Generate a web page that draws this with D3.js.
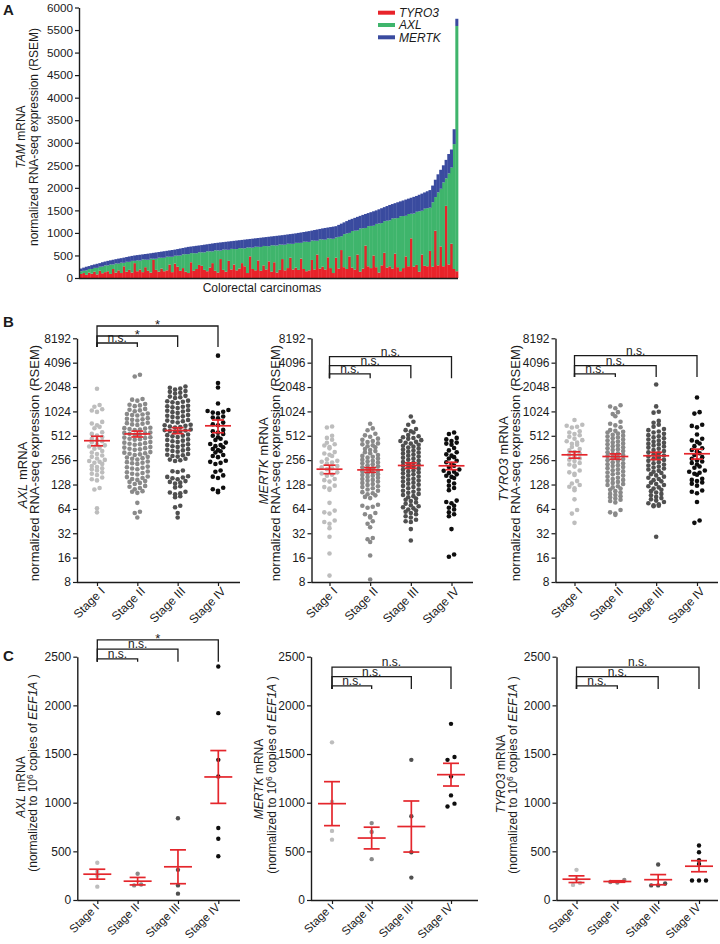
<!DOCTYPE html>
<html>
<head>
<meta charset="utf-8">
<script src="https://cdn.jsdelivr.net/npm/d3@7/dist/d3.min.js"></script>
<style>
html,body{margin:0;padding:0;background:#fff;}
svg text{font-family:"Liberation Sans",Arial,Helvetica,sans-serif;fill:#1b1b1b;}
</style>
</head>
<body>
<svg id="fig" width="720" height="944" xmlns="http://www.w3.org/2000/svg"></svg>
<script>
// ================= DATA =================
// Panel A: TAM receptor RNA-seq per tumour (sorted by total)
const tamGenes = ["TYRO3", "AXL", "MERTK"];
const tamTicks = [0, 500, 1000, 1500, 2000, 2500, 3000, 3500, 4000, 4500, 5000, 5500, 6000];
const tamTyro3 = [90,110,70,120,95,140,80,160,105,130,
150,90,200,120,170,110,260,140,180,120,
330,150,190,130,240,160,120,400,180,140,
210,150,170,300,130,320,250,160,220,140,
110,350,160,200,290,270,180,150,230,330,
160,120,420,180,140,380,190,300,170,210,
330,260,110,480,200,170,390,160,280,190,
370,140,350,120,180,420,170,220,450,190,
230,180,430,200,150,170,400,190,520,210,
250,190,460,220,110,450,210,620,240,200,
480,230,190,520,140,210,720,260,220,500,
240,120,280,560,230,260,210,540,240,150,
220,480,260,880,250,290,140,520,270,260,
600,250,1050,280,700,260,1600,300,760,200,150];
const tamAxl = [60,50,100,80,105,85,145,90,150,150,
130,212,100,203,150,230,77,220,178,260,
50,243,196,284,167,245,309,28,247,311,
240,299,303,172,341,175,247,339,306,388,
420,203,391,349,282,300,389,443,362,261,
455,492,189,451,488,245,457,344,471,453,
330,397,569,196,473,525,302,529,431,518,
335,587,374,601,563,320,568,541,309,567,
550,600,350,605,655,630,432,639,306,648,
605,660,420,655,760,450,703,306,734,787,
520,812,859,536,958,895,390,890,935,660,
960,1089,938,702,1041,1020,1110,785,1090,1220,
1155,900,1160,545,1180,1180,1341,972,1268,1289,
960,1430,745,1620,1280,1860,610,2020,1690,2770,5440];
const tamMertk = [60,70,80,65,85,75,90,80,95,85,
100,90,105,95,110,100,115,105,120,110,
120,115,130,110,125,135,120,130,140,125,
135,145,130,140,150,135,145,155,140,150,
160,145,155,165,150,160,170,155,165,175,
160,170,180,165,175,185,170,180,190,175,
185,195,180,190,200,185,195,205,190,200,
210,195,205,215,200,210,220,205,215,225,
210,220,230,215,225,240,220,235,250,230,
245,260,240,255,270,250,265,280,260,275,
290,270,285,300,280,295,310,290,305,320,
300,315,330,310,325,340,320,335,350,330,
345,360,340,355,370,350,365,380,360,375,
390,370,385,400,420,380,410,430,400,330,160];

// Panels B/C shared
const stages = ["Stage I", "Stage II", "Stage III", "Stage IV"];
const rnaTicks = [8, 16, 32, 64, 128, 256, 512, 1024, 2048, 4096, 8192];
const qpcrTicks = [0, 500, 1000, 1500, 2000, 2500];

// Panel B: RNA-seq (RSEM) per tumour, by stage
const axlRna = [
 [1950,1230,1170,1090,1050,1010,760,725,690,660,635,565,540,515,495,470,452,438,425,402,390,378,365,355,332,318,305,292,281,268,258,250,244,238,230,216,210,203,197,191,181,174,168,156,149,144,116,111,65,58],
 [2900,2760,1460,1430,1390,1265,1240,1215,1190,1100,1075,1055,1030,965,950,938,925,912,845,832,818,805,790,742,733,720,708,695,642,636,628,620,611,603,562,556,549,541,534,527,492,486,479,471,464,457,428,421,415,408,402,396,371,366,360,354,348,343,322,317,312,307,302,297,281,276,271,266,261,246,242,238,234,230,213,209,206,202,198,185,181,178,174,170,161,158,154,150,146,141,138,134,130,123,120,116,112,106,104,101,76,59,57,50],
 [2080,2010,1960,1905,1830,1785,1740,1700,1595,1560,1530,1500,1390,1368,1348,1325,1300,1205,1188,1168,1150,1128,1060,1042,1020,1002,982,922,905,890,876,860,802,788,775,762,748,702,690,679,668,657,646,612,602,594,585,577,568,530,521,513,504,495,462,454,446,438,430,401,394,387,380,373,350,344,338,332,326,305,299,294,288,283,266,260,255,250,191,187,183,162,159,156,153,149,141,138,135,132,122,118,104,102,100,97,92,89,70,67,57,50],
 [5000,2300,2020,1280,1065,1035,1012,990,968,885,862,840,745,712,690,605,582,560,540,512,490,470,455,422,405,393,381,370,352,340,330,318,296,288,279,252,244,237,229,191,184,166,160,154,117,112,107,103]
];
const axlRnaMean = [445, 540, 595, 680];
const axlRnaSem = [60, 45, 50, 122];

const mertkRna = [
 [668,648,512,482,458,420,402,388,372,358,322,309,298,288,262,251,245,239,233,216,209,203,198,181,175,169,164,150,145,139,124,119,114,110,76,61,58,56,46,44,42,37,29,18,9.6],
 [722,632,598,542,518,498,472,456,441,428,412,401,390,380,369,352,341,331,321,311,297,289,282,275,268,259,252,246,240,234,228,221,215,209,203,197,191,186,181,176,172,168,164,159,155,150,146,142,139,134,130,126,122,119,115,111,107,103,100,97,94,90,87,72,70,68,66,57,55,52,50,45,42,38,28,27,25,17,8.6],
 [885,762,702,622,601,582,561,522,506,492,480,469,452,441,431,420,410,396,386,376,366,356,346,336,326,318,310,301,291,283,275,267,259,251,243,237,231,225,219,213,207,201,196,191,186,181,176,171,166,161,156,151,147,143,139,135,131,127,123,119,115,111,107,104,101,98,95,92,89,86,83,80,77,74,71,69,67,65,63,61,59,57,55,52,50,47,45,44,36,26],
 [562,538,482,462,441,422,410,398,362,338,321,302,291,279,268,251,241,229,219,211,196,189,184,178,171,164,159,154,141,132,124,116,109,81,78,75,70,66,63,58,55,52,36,17.5,16.4]
];
const mertkRnaMean = [198, 194, 220, 218];
const mertkRnaSem = [24, 13, 17, 23];

const tyro3Rna = [
 [802,702,681,662,648,582,561,538,519,498,472,452,438,421,409,398,372,351,338,322,309,298,281,269,259,249,236,226,219,213,191,181,174,168,141,132,126,120,115,109,84,62,56,43],
 [1220,1178,1118,1002,948,892,762,722,688,652,602,589,574,561,546,528,514,501,489,476,461,448,436,424,412,401,391,381,369,359,350,341,331,321,312,304,296,288,279,272,264,256,249,241,234,228,222,216,210,204,198,192,186,180,176,171,165,160,155,150,146,142,138,134,130,126,122,118,114,110,106,102,98,95,92,89,86,83,80,77,62,58,56,54],
 [2200,1180,1012,988,782,741,702,661,621,601,579,561,541,521,506,489,476,461,446,431,419,409,399,389,378,366,354,342,331,321,311,301,292,284,276,266,258,251,242,234,226,220,214,208,202,196,190,184,178,172,166,160,155,150,145,140,135,130,126,122,118,114,110,106,102,98,94,90,87,84,81,78,75,73,71,70,69,29],
 [1520,1002,962,702,678,651,532,471,449,431,411,381,359,341,329,311,296,279,266,254,246,236,226,214,206,191,184,179,174,169,151,146,141,136,131,124,108,104,100,78,46,43]
];
const tyro3RnaMean = [298, 284, 290, 307];
const tyro3RnaSem = [27, 22, 30, 43];

// Panel C: qPCR (copies per 10^6 EEF1A) by stage
const axlQpcr = [[383,291,250,137],[270,160,150],[840,310,150,65],[2400,1920,1440,1270,740,630,450]];
const mertkQpcr = [[1620,1010,710,620],[790,700,420],[1440,860,490,230],[1810,1470,1440,1270,1075,990,960]];
const tyro3Qpcr = [[310,215,175,155],[205,185,180],[365,170,150,150],[560,490,410,370,200,200,200]];

// Significance labels (Stage I vs II, III, IV)
const sigAxlRna = ["n.s.", "*", "*"];
const sigMertkRna = ["n.s.", "n.s.", "n.s."];
const sigTyro3Rna = ["n.s.", "n.s.", "n.s."];
const sigAxlQpcr = ["n.s.", "n.s.", "*"];
const sigMertkQpcr = ["n.s.", "n.s.", "n.s."];
const sigTyro3Qpcr = ["n.s.", "n.s.", "n.s."];

// ================= DRAWING =================
const svg = d3.select("#fig");
const FF = '"Liberation Sans", Arial, Helvetica, sans-serif';
const INK = "#1b1b1b";
const MEAN_RED = "#e4262c";
const tamColors = {TYRO3: "#e8232a", AXL: "#3fb56c", MERTK: "#3a4b9f"};
const stageColors = ["#bdbdbd", "#8a8a8a", "#505050", "#0e0e0e"];

function styleAxis(ga, fs) {
  ga.attr("font-family", FF).attr("font-size", fs);
  ga.select(".domain").attr("stroke", INK).attr("stroke-width", 1.4);
  ga.selectAll(".tick line").attr("stroke", INK).attr("stroke-width", 1.2);
  ga.selectAll(".tick text").attr("fill", INK);
}

// ---- Panel A ----
{
  const rows = tamTyro3.map((v, i) => ({TYRO3: v, AXL: tamAxl[i], MERTK: tamMertk[i]}));
  const x = d3.scaleBand().domain(d3.range(rows.length)).range([79.5, 458]);
  const y = d3.scaleLinear().domain([0, 6000]).range([278, 7.5]);
  const series = d3.stack().keys(tamGenes)(rows);
  const gA = svg.append("g");
  gA.selectAll("g.layer").data(series).join("g").attr("class", "layer")
    .attr("fill", s => tamColors[s.key])
    .selectAll("rect").data(s => s).join("rect")
    .attr("x", (d, i) => x(i)).attr("width", x.bandwidth() + 0.35)
    .attr("y", d => y(d[1])).attr("height", d => Math.max(0, y(d[0]) - y(d[1])));
  const ya = gA.append("g").attr("transform", "translate(79,0)")
    .call(d3.axisLeft(y).tickValues(tamTicks).tickFormat(d3.format("d")).tickSize(4).tickPadding(2).tickSizeOuter(0));
  styleAxis(ya, 11.7);
  gA.append("line").attr("x1", 79).attr("x2", 458).attr("y1", 278.5).attr("y2", 278.5)
    .attr("stroke", INK).attr("stroke-width", 1.4);
  gA.append("text").attr("x", 262).attr("y", 292).attr("text-anchor", "middle")
    .attr("font-size", 12).text("Colorectal carcinomas");
  const t1 = gA.append("text").attr("transform", "translate(25,137) rotate(-90)")
    .attr("text-anchor", "middle").attr("font-size", 12);
  t1.append("tspan").attr("font-style", "italic").text("TAM");
  t1.append("tspan").text(" mRNA");
  gA.append("text").attr("transform", "translate(38,137) rotate(-90)")
    .attr("text-anchor", "middle").attr("font-size", 12).text("normalized RNA-seq expression (RSEM)");
  tamGenes.forEach((k, i) => {
    const cy = 12.7 + i * 12.3;
    gA.append("rect").attr("x", 378).attr("y", cy - 2).attr("width", 17).attr("height", 4).attr("fill", tamColors[k]);
    gA.append("text").attr("x", 399).attr("y", cy + 4.2).attr("font-size", 12)
      .attr("font-style", "italic").text(k);
  });
}

// ---- panel letters ----
[["A", 3, 15], ["B", 3, 327], ["C", 3, 661]].forEach(([t, x, y]) => {
  svg.append("text").attr("x", x).attr("y", y).attr("font-size", 15).attr("font-weight", "bold").text(t);
});

// ---- dot panels ----
function swarm(vals, y, cx, rowH, dx) {
  const pts = vals.map(v => ({v, y: y(v)})).sort((a, b) => a.y - b.y);
  const rows = [];
  let cur = null;
  pts.forEach(p => {
    if (!cur || p.y - cur.y0 > rowH) { cur = {y0: p.y, pts: []}; rows.push(cur); }
    cur.pts.push(p);
  });
  rows.forEach(r => {
    const s = r.pts.slice().sort((a, b) => b.y - a.y); // lowest value in centre
    const n = s.length;
    s.forEach((p, i) => {
      let k;
      if (n % 2 === 1) k = i === 0 ? 0 : (i % 2 === 1 ? -Math.ceil(i / 2) : Math.ceil(i / 2));
      else k = i % 2 === 0 ? -(i / 2 + 0.5) : (Math.floor(i / 2) + 0.5);
      p.x = cx + k * dx;
    });
  });
  return pts;
}

function dotPanel(c) {
  const g = svg.append("g");
  const x = d3.scalePoint().domain(stages).range([c.gx0, c.gx1]);
  const y = c.log
    ? d3.scaleLog().base(2).domain([8, 8192]).range([c.yb, c.yt])
    : d3.scaleLinear().domain([0, 2500]).range([c.yb, c.yt]);

  const ya = g.append("g").attr("transform", `translate(${c.ax},0)`)
    .call(d3.axisLeft(y).tickValues(c.ticks).tickFormat(d3.format("d")).tickSize(4).tickPadding(2).tickSizeOuter(0));
  styleAxis(ya, c.tickFs);

  const xa = g.append("g").attr("transform", `translate(0,${c.yb})`)
    .call(d3.axisBottom(x).tickSize(4).tickSizeOuter(0));
  styleAxis(xa, c.labFs);
  xa.select(".domain").attr("d", `M${c.ax},0.5H${c.xEnd}`);
  xa.selectAll(".tick text").attr("x", 0).attr("y", 0).attr("dy", null)
    .attr("text-anchor", "end").attr("transform", `translate(${c.lab[0]},${c.lab[1]}) rotate(-45)`);

  // dots
  c.data.forEach((vals, i) => {
    const pts = swarm(vals, y, x(stages[i]), c.rowH, c.dx);
    g.append("g").attr("fill", stageColors[i]).selectAll("circle").data(pts).join("circle")
      .attr("cx", d => d.x).attr("cy", d => d.y).attr("r", c.r);
  });

  // mean +/- SEM
  const stats = c.data.map((vals, i) => c.mean ? {m: c.mean[i], s: c.sem[i]}
    : {m: d3.mean(vals), s: d3.deviation(vals) / Math.sqrt(vals.length)});
  const gm = g.append("g").attr("stroke", MEAN_RED).attr("stroke-width", 1.7).attr("fill", "none");
  stats.forEach((st, i) => {
    const cx = x(stages[i]);
    const yt = y(st.m + st.s), yb = y(st.m - st.s), ym = y(st.m);
    gm.append("line").attr("x1", cx - c.mw).attr("x2", cx + c.mw).attr("y1", ym).attr("y2", ym);
    gm.append("line").attr("x1", cx).attr("x2", cx).attr("y1", yt).attr("y2", yb);
    gm.append("line").attr("x1", cx - c.cw).attr("x2", cx + c.cw).attr("y1", yt).attr("y2", yt);
    gm.append("line").attr("x1", cx - c.cw).attr("x2", cx + c.cw).attr("y1", yb).attr("y2", yb);
  });

  // significance brackets
  const x0 = x(stages[0]);
  const yd = y(c.drop);
  c.levels.forEach((lv, k) => {
    const x1 = x(stages[k + 1]);
    const yl = y(lv);
    g.append("path").attr("d", `M${x0},${yd}V${yl}H${x1}V${yd}`)
      .attr("fill", "none").attr("stroke", INK).attr("stroke-width", 1.3);
    const lab = c.sig[k];
    g.append("text").attr("x", (x0 + x1) / 2).attr("y", lab === "*" ? yl + 3 : yl - 1)
      .attr("text-anchor", "middle").attr("font-size", lab === "*" ? 13 : 12).text(lab);
  });

  // axis titles
  const t1 = g.append("text").attr("transform", `translate(${c.t1[0]},${c.t1[1]}) rotate(-90)`)
    .attr("text-anchor", "middle").attr("font-size", c.titleFs);
  t1.append("tspan").attr("font-style", "italic").text(c.gene);
  t1.append("tspan").text(" mRNA");
  const t2 = g.append("text").attr("transform", `translate(${c.t2[0]},${c.t2[1]}) rotate(-90)`)
    .attr("text-anchor", "middle").attr("font-size", c.titleFs);
  if (c.log) {
    t2.text("normalized RNA-seq expression (RSEM)");
  } else {
    t2.append("tspan").text("(normalized to 10");
    t2.append("tspan").attr("font-size", c.titleFs * 0.7).attr("dy", -4.5).text("6");
    t2.append("tspan").attr("dy", 4.5).text(" copies of ");
    t2.append("tspan").attr("font-style", "italic").text("EEF1A");
    t2.append("tspan").text(" )");
  }
}

const bBase = {log: true, yb: 582, yt: 338.3, ticks: rnaTicks, tickFs: 12, titleFs: 13, rowH: 3.6, dx: 5.2, r: 2.3, mw: 13, cw: 6, lab: [8, 10], labFs: 12};
const cBase = {log: false, yb: 900, yt: 656.7, ticks: qpcrTicks, tickFs: 12, titleFs: 12, rowH: 3.6, dx: 7, r: 2.2, mw: 14, cw: 8, lab: [2, 8], labFs: 11.5};

dotPanel(Object.assign({}, bBase, {gene: "AXL", data: axlRna, mean: axlRnaMean, sem: axlRnaSem, sig: sigAxlRna,
  ax: 77, gx0: 97, gx1: 218, xEnd: 240, levels: [7165, 8740, 11620], drop: 6400, t1: [27, 475], t2: [39, 463]}));
dotPanel(Object.assign({}, bBase, {gene: "MERTK", data: mertkRna, mean: mertkRnaMean, sem: mertkRnaSem, sig: sigMertkRna,
  ax: 311.5, gx0: 329.5, gx1: 451.5, xEnd: 473, levels: [2970, 3760, 4857], drop: 2630, t1: [268, 461], t2: [280, 463]}));
dotPanel(Object.assign({}, bBase, {gene: "TYRO3", data: tyro3Rna, mean: tyro3RnaMean, sem: tyro3RnaSem, sig: sigTyro3Rna,
  ax: 555.5, gx0: 574.5, gx1: 697, xEnd: 718, levels: [2970, 3760, 4996], drop: 2730, t1: [508, 459], t2: [520, 463]}));

dotPanel(Object.assign({}, cBase, {gene: "AXL", data: axlQpcr, sig: sigAxlQpcr,
  ax: 77.3, gx0: 97.3, gx1: 218.3, xEnd: 240, levels: [2477, 2577, 2672], drop: 2449, t1: [25, 787], t2: [37, 773]}));
dotPanel(Object.assign({}, cBase, {gene: "MERTK", data: mertkQpcr, sig: sigMertkQpcr,
  ax: 311, gx0: 332, gx1: 451, xEnd: 478, levels: [2200, 2295, 2392], drop: 2168, t1: [263, 779], t2: [276, 775]}));
dotPanel(Object.assign({}, cBase, {gene: "TYRO3", data: tyro3Qpcr, sig: sigTyro3Qpcr,
  ax: 556.5, gx0: 576.5, gx1: 699, xEnd: 718, levels: [2200, 2295, 2392], drop: 2168, t1: [505, 774], t2: [517, 775]}));
</script>
</body>
</html>
